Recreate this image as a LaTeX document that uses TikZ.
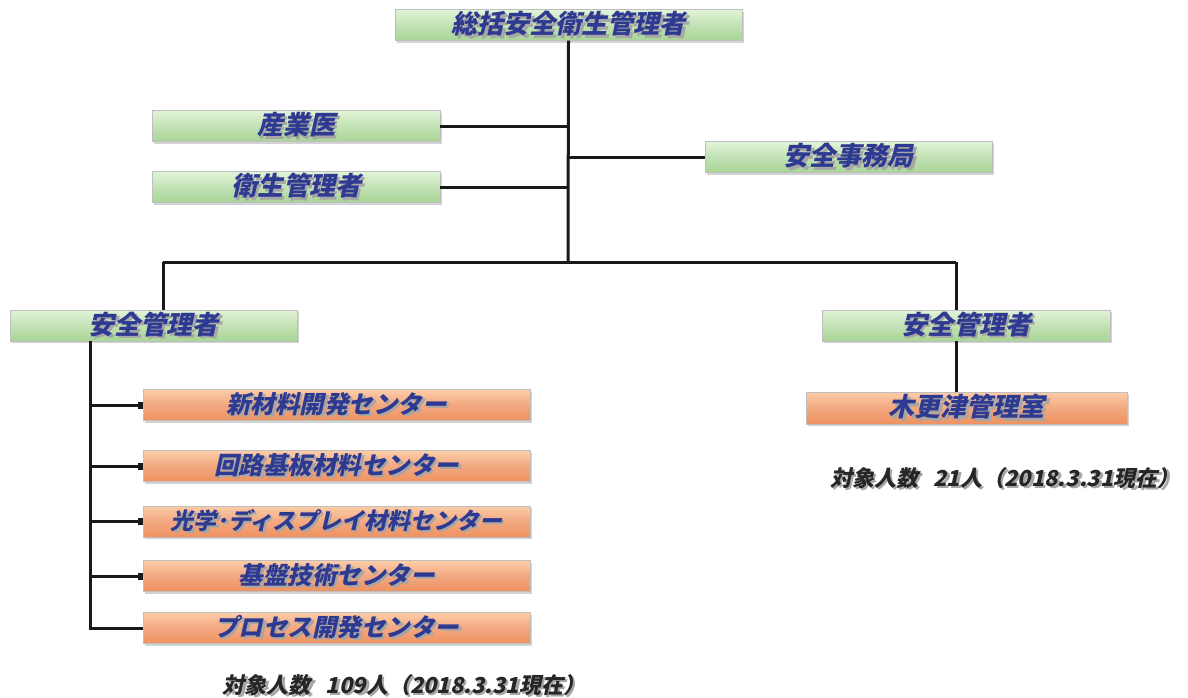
\documentclass[tikz,border=0pt]{standalone}
\usepackage{fontspec}
\newfontfamily\jp[FakeSlant=0.22]{Noto Sans CJK JP Black}
\usetikzlibrary{shadows,arrows.meta}
\definecolor{txtblue}{HTML}{2E3A92}
\definecolor{gtop}{HTML}{E2F4D8}
\definecolor{gbot}{HTML}{A8D595}
\definecolor{otop}{HTML}{FCCDA8}
\definecolor{obot}{HTML}{EF9260}
\newcommand{\shtx}[1]{\makebox[0pt][l]{\raisebox{-2.5pt}{\hspace{2.5pt}\textcolor{black!35}{#1}}}#1}
\tikzset{
  box/.style={rectangle, minimum height=31pt, inner sep=0pt, draw=black!25, line width=0.4pt,
     font=\jp\fontsize{26}{26}\selectfont, text=txtblue,
     drop shadow={shadow xshift=1.5pt, shadow yshift=-2pt, opacity=0.35}},
  gbox/.style={box, top color=gtop, bottom color=gbot, middle color=gbot!70!white},
  obox/.style={box, top color=otop, bottom color=obot, middle color=obot!80!white,
     font=\jp\fontsize{24.5}{24.5}\selectfont},
  conn/.style={line width=3pt, black!90},
  note/.style={font=\jp\fontsize{22}{22}\selectfont, text=black!85, inner sep=0pt}
}
\begin{document}
\begin{tikzpicture}[x=1pt,y=-1pt]
\useasboundingbox (0,0) rectangle (1188,697);
% green boxes
\node[gbox, minimum width=347pt] (top) at (568.5,25) {\shtx{総括安全衛生管理者}};
\node[gbox, minimum width=288pt] (sang) at (296,126) {\shtx{産業医}};
\node[gbox, minimum width=288pt] (eisei) at (296,187) {\shtx{衛生管理者}};
\node[gbox, minimum width=287pt] (jimu) at (848.5,157) {\shtx{安全事務局}};
\node[gbox, minimum width=287pt] (kanL) at (153.5,325.5) {\shtx{安全管理者}};
\node[gbox, minimum width=288pt] (kanR) at (966,325.5) {\shtx{安全管理者}};
% orange boxes
\node[obox, minimum width=387pt] (c1) at (336.5,405) {\shtx{新材料開発センター}};
\node[obox, minimum width=387pt] (c2) at (336.5,466) {\shtx{回路基板材料センター}};
\node[obox, minimum width=387pt, font=\jp\fontsize{23}{23}\selectfont] (c3) at (336.5,521.5) {\shtx{光学･ディスプレイ材料センター}};
\node[obox, minimum width=387pt] (c4) at (336.5,576) {\shtx{基盤技術センター}};
\node[obox, minimum width=387pt] (c5) at (336.5,628) {\shtx{プロセス開発センター}};
\node[obox, minimum width=321pt, minimum height=32pt, font=\jp\fontsize{26}{26}\selectfont] (kisa) at (966.5,408) {\shtx{木更津管理室}};
% notes
\node[note] (n1) at (1005,479) {\shtx{対象人数\ \ \ 21人（2018.3.31現在）}};
\node[note] (n2) at (404,686) {\shtx{対象人数\ \ \ 109人（2018.3.31現在）}};
% coordinates
\coordinate (jn) at (568,262);
\coordinate (lx) at (163,262);
\coordinate (rx) at (956,262);
\coordinate (vx) at (90,341);
% connectors
\draw[conn] (top.south) -- (jn);
\draw[conn] (sang.east) -- (sang.east -| jn);
\draw[conn] (eisei.east) -- (eisei.east -| jn);
\draw[conn] (jimu.west) -- (jimu.west -| jn);
\draw[conn] (lx) -- (rx);
\draw[conn] (lx) -- (lx |- kanL.north);
\draw[conn] (rx) -- (rx |- kanR.north);
\draw[conn] (rx |- kanR.south) -- (rx |- kisa.north);
\draw[conn] (vx) |- (c5.west);
\foreach \c in {c1,c2,c3,c4}{
  \draw[conn, -{Square[length=5pt,width=7pt]}] (vx |- \c.west) -- (\c.west);
}
\end{tikzpicture}
\end{document}
